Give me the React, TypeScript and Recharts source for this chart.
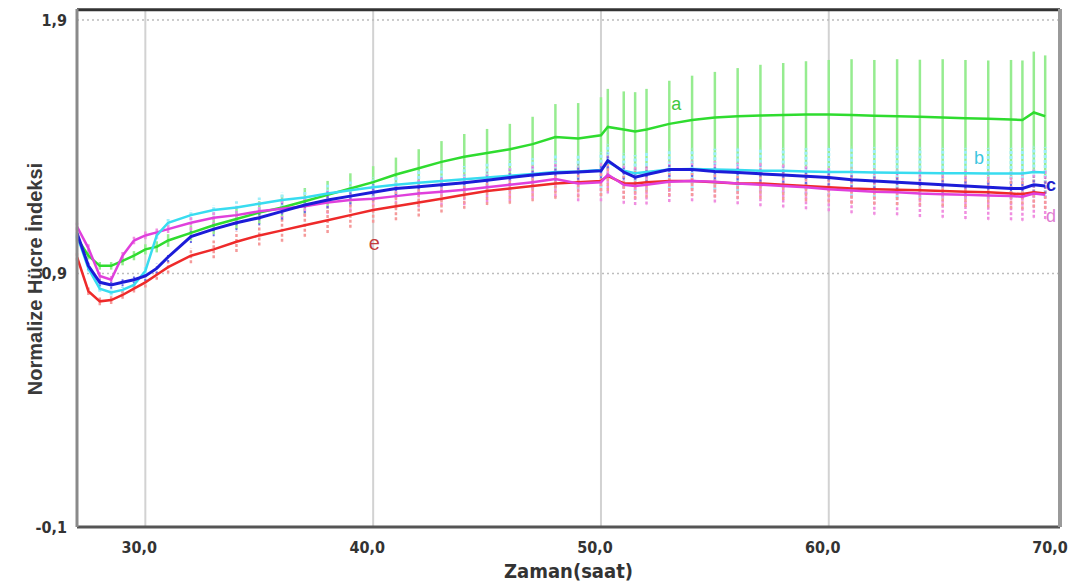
import {
  ErrorBar,
  Label,
  Line,
  LineChart,
  ReferenceDot,
  ReferenceLine,
  XAxis,
  YAxis,
} from 'recharts';

// time (hours)
const hours = [
  27, 27.5, 28, 28.5, 29, 29.5, 30, 30.5, 31, 32, 33, 34, 35, 36, 37, 38, 39, 40, 41, 42, 43, 44, 45,
  46, 47, 48, 49, 50, 50.3, 51, 51.5, 52, 53, 54, 55, 56, 57, 58, 59, 60, 61, 62, 63, 64, 65, 66, 67,
  68, 68.5, 69, 69.5,
];

// normalized cell index per group
const seriesA = [
  1.04, 0.97, 0.93, 0.93, 0.95, 0.97, 0.995, 1.005, 1.03, 1.06, 1.09, 1.115, 1.14, 1.16, 1.185, 1.21,
  1.235, 1.26, 1.29, 1.315, 1.34, 1.36, 1.375, 1.39, 1.41, 1.438, 1.432, 1.445, 1.478, 1.468, 1.46,
  1.468, 1.49, 1.505, 1.515, 1.52, 1.523, 1.525, 1.527, 1.527, 1.525, 1.522, 1.52, 1.518, 1.515,
  1.512, 1.51, 1.507, 1.505, 1.535, 1.52,
];
const seriesB = [
  1.05, 0.92, 0.84, 0.825, 0.835, 0.855, 0.91, 1.05, 1.1, 1.13, 1.15, 1.16, 1.175, 1.19, 1.2, 1.215,
  1.228, 1.24, 1.25, 1.258, 1.265, 1.272, 1.278, 1.285, 1.292, 1.3, 1.302, 1.308, 1.34, 1.305, 1.295,
  1.3, 1.31, 1.312, 1.31, 1.308, 1.305, 1.305, 1.302, 1.3, 1.3, 1.298, 1.297, 1.296, 1.295, 1.295,
  1.294, 1.294, 1.294, 1.3, 1.298,
];
const seriesC = [
  1.06, 0.93, 0.865, 0.855, 0.865, 0.875, 0.89, 0.92, 0.965, 1.045, 1.075, 1.1, 1.12, 1.145, 1.17,
  1.19, 1.205, 1.22, 1.235, 1.242, 1.25, 1.258, 1.268, 1.278, 1.288, 1.296, 1.3, 1.305, 1.345, 1.3,
  1.28, 1.29, 1.31, 1.31, 1.302, 1.298, 1.293, 1.288, 1.283, 1.278, 1.27, 1.265, 1.26, 1.255, 1.25,
  1.245, 1.24, 1.235, 1.235, 1.25, 1.245,
];
const seriesD = [
  1.085, 1.0, 0.89, 0.875, 0.97, 1.03, 1.05, 1.062, 1.075, 1.1, 1.12, 1.13, 1.145, 1.155, 1.165, 1.18,
  1.19, 1.195, 1.205, 1.215, 1.222, 1.23, 1.24, 1.25, 1.26, 1.272, 1.255, 1.26, 1.29, 1.25, 1.245,
  1.25, 1.262, 1.265, 1.262, 1.255, 1.25, 1.245, 1.24, 1.232, 1.227, 1.222, 1.22, 1.215, 1.212, 1.21,
  1.207, 1.205, 1.203, 1.215, 1.21,
];
const seriesE = [
  0.965, 0.83, 0.79, 0.795, 0.815, 0.84, 0.865, 0.895, 0.925, 0.97, 0.995, 1.025, 1.05, 1.07, 1.09,
  1.11, 1.13, 1.15, 1.165, 1.18, 1.195, 1.21, 1.225, 1.235, 1.245, 1.255, 1.26, 1.265, 1.285, 1.255,
  1.255, 1.26, 1.265, 1.265, 1.26, 1.255, 1.255, 1.25, 1.245, 1.24, 1.235, 1.232, 1.23, 1.228, 1.225,
  1.222, 1.22, 1.215, 1.213, 1.22, 1.215,
];

// standard deviations
const errA = [
  0.015, 0.015, 0.015, 0.015, 0.018, 0.018, 0.02, 0.022, 0.025, 0.03, 0.035, 0.04, 0.045, 0.05, 0.052,
  0.055, 0.06, 0.063, 0.067, 0.075, 0.082, 0.09, 0.095, 0.1, 0.108, 0.13, 0.14, 0.15, 0.15, 0.15,
  0.155, 0.16, 0.17, 0.175, 0.18, 0.19, 0.2, 0.205, 0.21, 0.215, 0.22, 0.22, 0.225, 0.225, 0.23, 0.23,
  0.23, 0.235, 0.235, 0.24, 0.24,
];
const errB = [
  0.012, 0.012, 0.012, 0.012, 0.012, 0.012, 0.015, 0.015, 0.015, 0.02, 0.02, 0.025, 0.025, 0.03, 0.03,
  0.035, 0.035, 0.04, 0.042, 0.045, 0.05, 0.052, 0.055, 0.06, 0.062, 0.065, 0.068, 0.07, 0.07, 0.07,
  0.072, 0.075, 0.078, 0.08, 0.082, 0.085, 0.087, 0.09, 0.092, 0.095, 0.097, 0.1, 0.1, 0.1, 0.1, 0.1,
  0.1, 0.1, 0.1, 0.1, 0.1,
];
const errC = [
  0.015, 0.015, 0.015, 0.015, 0.015, 0.015, 0.02, 0.02, 0.02, 0.025, 0.028, 0.03, 0.03, 0.032, 0.032,
  0.032, 0.032, 0.032, 0.03, 0.03, 0.03, 0.03, 0.03, 0.03, 0.03, 0.03, 0.03, 0.03, 0.03, 0.03, 0.03,
  0.03, 0.03, 0.03, 0.03, 0.03, 0.03, 0.03, 0.03, 0.03, 0.03, 0.03, 0.03, 0.03, 0.03, 0.03, 0.03, 0.03,
  0.03, 0.03, 0.03,
];
const errD = [
  0.015, 0.015, 0.015, 0.015, 0.015, 0.015, 0.015, 0.015, 0.015, 0.03, 0.03, 0.035, 0.035, 0.04, 0.04,
  0.045, 0.045, 0.05, 0.05, 0.055, 0.055, 0.06, 0.06, 0.065, 0.065, 0.07, 0.07, 0.075, 0.075, 0.075,
  0.075, 0.078, 0.08, 0.08, 0.082, 0.082, 0.085, 0.085, 0.087, 0.087, 0.09, 0.09, 0.09, 0.092, 0.092,
  0.095, 0.095, 0.095, 0.095, 0.095, 0.095,
];
const errE = [
  0.015, 0.015, 0.015, 0.015, 0.015, 0.015, 0.02, 0.02, 0.025, 0.03, 0.035, 0.04, 0.04, 0.045, 0.045,
  0.05, 0.05, 0.05, 0.055, 0.055, 0.055, 0.055, 0.055, 0.06, 0.06, 0.06, 0.06, 0.06, 0.06, 0.06, 0.06,
  0.06, 0.06, 0.06, 0.06, 0.06, 0.06, 0.06, 0.06, 0.06, 0.06, 0.06, 0.06, 0.06, 0.06, 0.06, 0.06, 0.06,
  0.06, 0.06, 0.06,
];

const xTicks = [30, 40, 50, 60, 70];
const yTicks = [-0.1, 0.9, 1.9];

// group letters placed next to the curves: [letter, hour, value]
const groupLabels: [string, number, number][] = [
  ['a', 53.3, 1.57],
  ['b', 66.6, 1.355],
  ['c', 69.75, 1.252],
  ['d', 69.75, 1.13],
  ['e', 40.05, 1.02],
];
const labelColors: Record<string, string> = {
  a: '#3fc83f',
  b: '#3cc6e0',
  c: '#2222cc',
  d: '#e07cd2',
  e: '#c43c3c',
};

const data = hours.map((h, i) => ({
  h,
  a: seriesA[i],
  b: seriesB[i],
  c: seriesC[i],
  d: seriesD[i],
  e: seriesE[i],
  aErr: errA[i],
  bErr: errB[i],
  cErr: errC[i],
  dErr: errD[i],
  eErr: errE[i],
}));

const FONT = "'DejaVu Sans Condensed', 'Liberation Sans', Arial, sans-serif";
const xDomain: [number, number] = [27, 70.15];
const yDomain: [number, number] = [-0.1, 1.943];
const fmt = (v: number) => v.toFixed(1).replace('.', ',');

export default function App() {
  return (
    <LineChart width={1062} height={575} data={data} margin={{ top: 1, right: 9, left: 0, bottom: 0 }}>
      {xTicks.slice(0, 4).map((t) => (
        <ReferenceLine key={`g${t}`} x={t} stroke="#d2d2d2" strokeWidth={2} />
      ))}
      <ReferenceLine y={0.9} stroke="#bdbdbd" strokeDasharray="2 3" strokeWidth={1.5} />
      <ReferenceLine y={1.9} stroke="#bdbdbd" strokeDasharray="2 3" strokeWidth={1.5} />
      {/* frame top edge */}
      <ReferenceLine y={1.94} stroke="#333" strokeWidth={3} ifOverflow="visible" />

      <XAxis
        dataKey="h"
        type="number"
        domain={xDomain}
        allowDataOverflow
        ticks={xTicks}
        tickFormatter={fmt}
        height={56}
        axisLine={{ stroke: '#555', strokeWidth: 3 }}
        tickLine={false}
        tickSize={6}
        tickMargin={9}
        tick={{ fill: '#333', fontSize: 16, fontWeight: 'bold', fontFamily: FONT, dx: -6 }}
      >
        <Label
          value="Zaman(saat)"
          position="insideBottom"
          offset={5}
          style={{ fill: '#333', fontSize: 20, fontWeight: 'bold', fontFamily: FONT }}
        />
      </XAxis>
      <YAxis
        type="number"
        domain={yDomain}
        allowDataOverflow
        ticks={yTicks}
        tickFormatter={fmt}
        width={69}
        axisLine={{ stroke: '#8a8a8a', strokeWidth: 3 }}
        tickLine={false}
        tickSize={4}
        tickMargin={6}
        tick={{ fill: '#333', fontSize: 16, fontWeight: 'bold', fontFamily: FONT }}
      >
        <Label
          content={() => (
            <text
              x={27}
              y={271}
              transform="rotate(-90 27 271)"
              textAnchor="middle"
              dominantBaseline="central"
              fill="#3a3a3a"
              fontSize={20}
              fontWeight="bold"
              fontFamily="'Liberation Sans', Arial, sans-serif"
            >
              Normalize Hücre İndeksi
            </text>
          )}
        />
      </YAxis>
      <YAxis
        yAxisId="right"
        orientation="right"
        type="number"
        domain={yDomain}
        allowDataOverflow
        width={1}
        tick={false}
        tickLine={false}
        axisLine={{ stroke: '#9a9a9a', strokeWidth: 4 }}
      />

      {/* error bars underneath the mean curves */}
      <Line dataKey="a" stroke="none" dot={false} activeDot={false} isAnimationActive={false}>
        <ErrorBar dataKey="aErr" width={0} stroke="#96ec90" strokeWidth={2.5} direction="y" isAnimationActive={false} />
      </Line>
      <Line dataKey="b" stroke="none" dot={false} activeDot={false} isAnimationActive={false}>
        <ErrorBar dataKey="bErr" width={0} stroke="#9eeefa" strokeWidth={3} strokeDasharray="3 2" direction="y" isAnimationActive={false} />
      </Line>
      <Line dataKey="d" stroke="none" dot={false} activeDot={false} isAnimationActive={false}>
        <ErrorBar dataKey="dErr" width={0} stroke="#f08ee0" strokeWidth={2.5} strokeDasharray="3 2" direction="y" isAnimationActive={false} />
      </Line>
      <Line dataKey="e" stroke="none" dot={false} activeDot={false} isAnimationActive={false}>
        <ErrorBar dataKey="eErr" width={0} stroke="#f59a9a" strokeWidth={2.5} strokeDasharray="3 2" direction="y" isAnimationActive={false} />
      </Line>
      <Line dataKey="c" stroke="none" dot={false} activeDot={false} isAnimationActive={false}>
        <ErrorBar dataKey="cErr" width={0} stroke="#6a6ae6" strokeWidth={2} strokeDasharray="2 3" direction="y" isAnimationActive={false} />
      </Line>

      <Line dataKey="a" stroke="#2fdc2f" strokeWidth={2.5} dot={false} isAnimationActive={false} />
      <Line dataKey="e" stroke="#ee2a2a" strokeWidth={2.5} dot={false} isAnimationActive={false} />
      <Line dataKey="d" stroke="#e040dc" strokeWidth={2.5} dot={false} isAnimationActive={false} />
      <Line dataKey="b" stroke="#38dcf0" strokeWidth={2.5} dot={false} isAnimationActive={false} />
      <Line dataKey="c" stroke="#1c1cd8" strokeWidth={3} dot={false} isAnimationActive={false} />

      {groupLabels.map(([t, h, v]) => (
        <ReferenceDot
          key={t}
          x={h}
          y={v}
          r={0}
          fill="none"
          stroke="none"
          ifOverflow="visible"
          label={{
            value: t,
            position: 'center',
            fill: labelColors[t],
            fontSize: t === 'e' ? 20 : 18,
            fontWeight: t === 'c' ? 'bold' : 'normal',
            fontFamily: "'Liberation Sans', Arial, sans-serif",
          }}
        />
      ))}
    </LineChart>
  );
}
